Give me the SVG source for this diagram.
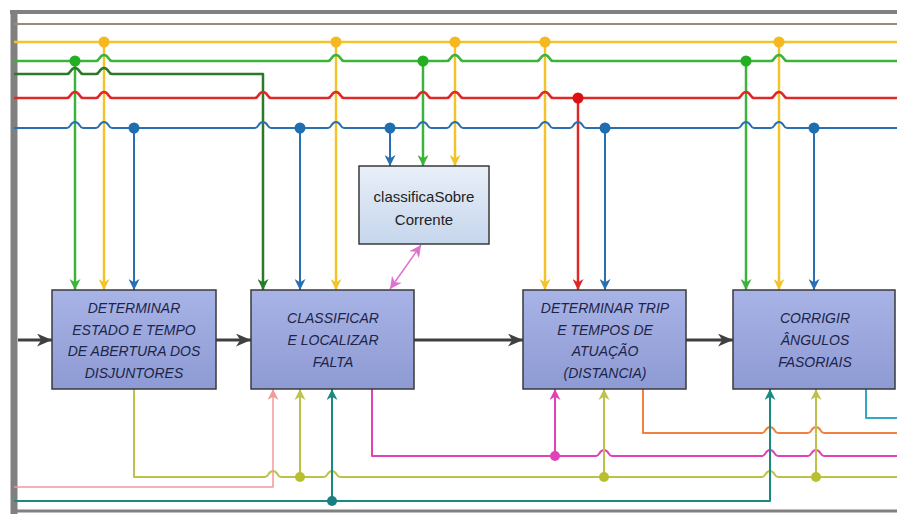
<svg xmlns="http://www.w3.org/2000/svg" width="897" height="514" viewBox="0 0 897 514">
<style>
.c{fill:none;stroke-linejoin:round}
.box{stroke:#3a3a3a;stroke-width:1.5}
.t{font-family:"Liberation Sans",Arial,sans-serif;font-style:italic;font-size:14px;fill:#1c2448;text-anchor:middle}
.t2{font-family:"Liberation Sans",Arial,sans-serif;font-size:15px;fill:#222;text-anchor:middle}
.G{stroke:#3cb43c;stroke-width:2.5}
.Y{stroke:#f2c42a;stroke-width:2.5}
.B{stroke:#2a70b0;stroke-width:2}
.DG{stroke:#2a7a2a;stroke-width:2.5}
.R{stroke:#e02828;stroke-width:2.5}
.BR{stroke:#9a8a78;stroke-width:2}
.OL{stroke:#bcc24a;stroke-width:2}
.SA{stroke:#f09a9a;stroke-width:1.5}
.TE{stroke:#1a8a80;stroke-width:2}
.MG{stroke:#e040b8;stroke-width:2}
.OR{stroke:#f08040;stroke-width:2}
.CY{stroke:#30aac0;stroke-width:2}
.DK{stroke:#404040;stroke-width:3}
.frame{stroke:#808080;fill:none}
</style>
<defs>
<linearGradient id="gN" x1="0" y1="0" x2="0" y2="1"><stop offset="0" stop-color="#a8b3e6"/><stop offset="1" stop-color="#8e9ad3"/></linearGradient>
<linearGradient id="gC" x1="0" y1="0" x2="0" y2="1"><stop offset="0" stop-color="#e8eff8"/><stop offset="1" stop-color="#c6d6ec"/></linearGradient>
<marker id="aG" viewBox="0 0 10 10" refX="10" refY="5" markerWidth="11" markerHeight="11" markerUnits="userSpaceOnUse" orient="auto"><path d="M0,0 L10,5 L0,10 L3,5 Z" fill="#3cb43c"/></marker>
<marker id="aY" viewBox="0 0 10 10" refX="10" refY="5" markerWidth="11" markerHeight="11" markerUnits="userSpaceOnUse" orient="auto"><path d="M0,0 L10,5 L0,10 L3,5 Z" fill="#f2c42a"/></marker>
<marker id="aB" viewBox="0 0 10 10" refX="10" refY="5" markerWidth="11" markerHeight="11" markerUnits="userSpaceOnUse" orient="auto"><path d="M0,0 L10,5 L0,10 L3,5 Z" fill="#2a70b0"/></marker>
<marker id="aDG" viewBox="0 0 10 10" refX="10" refY="5" markerWidth="11" markerHeight="11" markerUnits="userSpaceOnUse" orient="auto"><path d="M0,0 L10,5 L0,10 L3,5 Z" fill="#2a7a2a"/></marker>
<marker id="aR" viewBox="0 0 10 10" refX="10" refY="5" markerWidth="11" markerHeight="11" markerUnits="userSpaceOnUse" orient="auto"><path d="M0,0 L10,5 L0,10 L3,5 Z" fill="#e02828"/></marker>
<marker id="aOL" viewBox="0 0 10 10" refX="10" refY="5" markerWidth="11" markerHeight="11" markerUnits="userSpaceOnUse" orient="auto"><path d="M0,0 L10,5 L0,10 L3,5 Z" fill="#bcc24a"/></marker>
<marker id="aSA" viewBox="0 0 10 10" refX="10" refY="5" markerWidth="11" markerHeight="11" markerUnits="userSpaceOnUse" orient="auto"><path d="M0,0 L10,5 L0,10 L3,5 Z" fill="#f09a9a"/></marker>
<marker id="aTE" viewBox="0 0 10 10" refX="10" refY="5" markerWidth="11" markerHeight="11" markerUnits="userSpaceOnUse" orient="auto"><path d="M0,0 L10,5 L0,10 L3,5 Z" fill="#1a8a80"/></marker>
<marker id="aMG" viewBox="0 0 10 10" refX="10" refY="5" markerWidth="11" markerHeight="11" markerUnits="userSpaceOnUse" orient="auto"><path d="M0,0 L10,5 L0,10 L3,5 Z" fill="#e040b8"/></marker>
<marker id="aPK" viewBox="0 0 10 10" refX="10" refY="5" markerWidth="12" markerHeight="12" markerUnits="userSpaceOnUse" orient="auto-start-reverse"><path d="M0,0 L10,5 L0,10 L3,5 Z" fill="#e070d0"/></marker>
<marker id="aDK" viewBox="0 0 14 12" refX="14" refY="6" markerWidth="15" markerHeight="13" markerUnits="userSpaceOnUse" orient="auto"><path d="M0,0 L14,6 L0,12 L4,6 Z" fill="#404040"/></marker>
</defs>

<rect width="897" height="514" fill="#ffffff"/>

<g id="frame">
<line class="frame" x1="10" y1="12" x2="897" y2="12" stroke-width="4"/>
<line class="frame" x1="14" y1="10" x2="14" y2="514" stroke-width="7"/>
<line class="frame" x1="14" y1="511" x2="897" y2="511" stroke-width="3"/>
</g>

<g id="connectors">
<!-- vertical drops from buses -->
<path class="c G" d="M75,61 V290" marker-end="url(#aG)"/>
<path class="c Y" d="M104,42 V290" marker-end="url(#aY)"/>
<path class="c B" d="M134,128 V290" marker-end="url(#aB)"/>
<path class="c B" d="M300,128 V290" marker-end="url(#aB)"/>
<path class="c Y" d="M336,42 V290" marker-end="url(#aY)"/>
<path class="c B" d="M390,128 V166" marker-end="url(#aB)"/>
<path class="c G" d="M423,61 V166" marker-end="url(#aG)"/>
<path class="c Y" d="M455,42 V166" marker-end="url(#aY)"/>
<path class="c Y" d="M545,42 V290" marker-end="url(#aY)"/>
<path class="c R" d="M578,98 V290" marker-end="url(#aR)" stroke-width="2"/>
<path class="c B" d="M605,128 V290" marker-end="url(#aB)"/>
<path class="c G" d="M746,61 V290" marker-end="url(#aG)"/>
<path class="c Y" d="M779,42 V290" marker-end="url(#aY)"/>
<path class="c B" d="M814,128 V290" marker-end="url(#aB)"/>

<!-- top buses -->
<path class="c BR" d="M14,24 H897"/>
<path class="c Y" d="M14,42 H897"/>
<path class="c G" d="M14,61 H96 C100,61 99,55 104,55 C109,55 108,61 112,61 H328 C332,61 331,55 336,55 C341,55 340,61 344,61 H447 C451,61 450,55 455,55 C460,55 459,61 463,61 H537 C541,61 540,55 545,55 C550,55 549,61 553,61 H771 C775,61 774,55 779,55 C784,55 783,61 787,61 H897"/>
<path class="c DG" d="M14,74 H67 C71,74 70,68 75,68 C80,68 79,74 83,74 H96 C100,74 99,68 104,68 C109,68 108,74 112,74 H263 V290" marker-end="url(#aDG)"/>
<path class="c R" d="M14,98 H67 C71,98 70,92 75,92 C80,92 79,98 83,98 H96 C100,98 99,92 104,92 C109,92 108,98 112,98 H255 C259,98 258,92 263,92 C268,92 267,98 271,98 H328 C332,98 331,92 336,92 C341,92 340,98 344,98 H415 C419,98 418,92 423,92 C428,92 427,98 431,98 H447 C451,98 450,92 455,92 C460,92 459,98 463,98 H537 C541,98 540,92 545,92 C550,92 549,98 553,98 H738 C742,98 741,92 746,92 C751,92 750,98 754,98 H771 C775,98 774,92 779,92 C784,92 783,98 787,98 H897"/>
<path class="c B" d="M14,128 H67 C71,128 70,122 75,122 C80,122 79,128 83,128 H96 C100,128 99,122 104,122 C109,122 108,128 112,128 H255 C259,128 258,122 263,122 C268,122 267,128 271,128 H328 C332,128 331,122 336,122 C341,122 340,128 344,128 H415 C419,128 418,122 423,122 C428,122 427,128 431,128 H447 C451,128 450,122 455,122 C460,122 459,128 463,128 H537 C541,128 540,122 545,122 C550,122 549,128 553,128 H570 C574,128 573,122 578,122 C583,122 582,128 586,128 H738 C742,128 741,122 746,122 C751,122 750,128 754,128 H771 C775,128 774,122 779,122 C784,122 783,128 787,128 H897"/>

<!-- top junction dots -->
<g fill="#f5b820">
<circle cx="104" cy="42" r="5.5"/><circle cx="336" cy="42" r="5.5"/><circle cx="455" cy="42" r="5.5"/><circle cx="545" cy="42" r="5.5"/><circle cx="779" cy="42" r="5.5"/>
</g>
<g fill="#22b022">
<circle cx="75" cy="61" r="5.5"/><circle cx="423" cy="61" r="5.5"/><circle cx="746" cy="61" r="5.5"/>
</g>
<circle cx="578" cy="98" r="5.5" fill="#e01010"/>
<g fill="#1f6fb0">
<circle cx="134" cy="128" r="5.5"/><circle cx="300" cy="128" r="5.5"/><circle cx="390" cy="128" r="5.5"/><circle cx="605" cy="128" r="5.5"/><circle cx="814" cy="128" r="5.5"/>
</g>

<!-- main flow -->
<path class="c DK" d="M18,340 H52" marker-end="url(#aDK)"/>
<path class="c DK" d="M216,340 H251" marker-end="url(#aDK)"/>
<path class="c DK" d="M414,340 H523" marker-end="url(#aDK)"/>
<path class="c DK" d="M686,340 H733" marker-end="url(#aDK)"/>

<!-- pink double arrow -->
<path class="c" stroke="#e070d0" stroke-width="1.5" d="M421,245 L390,289" marker-start="url(#aPK)" marker-end="url(#aPK)"/>

<!-- bottom lines -->
<path class="c CY" d="M866,389 V418 H897"/>
<path class="c OR" d="M643,389 V433 H762 C766,433 765,427 770,427 C775,427 774,433 778,433 H808 C812,433 811,427 816,427 C821,427 820,433 824,433 H897"/>
<path class="c MG" d="M372,389 V456 H596 C600,456 599,450 604,450 C609,450 608,456 612,456 H762 C766,456 765,450 770,450 C775,450 774,456 778,456 H808 C812,456 811,450 816,450 C821,450 820,456 824,456 H897"/>
<path class="c MG" d="M555,456 V389" marker-end="url(#aMG)"/>
<path class="c OL" d="M134,389 V477 H265 C269,477 268,471 273,471 C278,471 277,477 281,477 H324 C328,477 327,471 332,471 C337,471 336,477 340,477 H762 C766,477 765,471 770,471 C775,471 774,477 778,477 H897"/>
<path class="c OL" d="M300,477 V389" marker-end="url(#aOL)"/>
<path class="c OL" d="M604,477 V389" marker-end="url(#aOL)"/>
<path class="c OL" d="M816,477 V389" marker-end="url(#aOL)"/>
<path class="c SA" d="M14,487 H273 V389" marker-end="url(#aSA)"/>
<path class="c TE" d="M14,501 H770 V389" marker-end="url(#aTE)"/>
<path class="c TE" d="M332,501 V389" marker-end="url(#aTE)"/>
<circle cx="555" cy="456" r="5" fill="#e040b8"/>
<g fill="#b8c030">
<circle cx="300" cy="477" r="5"/><circle cx="604" cy="477" r="5"/><circle cx="816" cy="477" r="5"/>
</g>
<circle cx="332" cy="501" r="5" fill="#1a7f7f"/>
</g>

<g id="node-classificaSobreCorrente">
<rect class="box" x="359" y="166" width="130" height="78" fill="url(#gC)"/>
<text class="t2" x="424" y="202">classificaSobre</text>
<text class="t2" x="424" y="225">Corrente</text>
</g>

<g id="node-determinar-estado">
<rect class="box" x="52" y="290" width="164" height="99" fill="url(#gN)"/>
<text class="t" x="134" y="313">DETERMINAR</text>
<text class="t" x="134" y="335">ESTADO E TEMPO</text>
<text class="t" x="134" y="356">DE ABERTURA DOS</text>
<text class="t" x="134" y="378">DISJUNTORES</text>
</g>

<g id="node-classificar">
<rect class="box" x="251" y="290" width="163" height="99" fill="url(#gN)"/>
<text class="t" x="333" y="323">CLASSIFICAR</text>
<text class="t" x="333" y="345">E LOCALIZAR</text>
<text class="t" x="333" y="367">FALTA</text>
</g>

<g id="node-determinar-trip">
<rect class="box" x="523" y="290" width="163" height="99" fill="url(#gN)"/>
<text class="t" x="605" y="313">DETERMINAR TRIP</text>
<text class="t" x="605" y="335">E TEMPOS DE</text>
<text class="t" x="605" y="356">ATUAÇÃO</text>
<text class="t" x="605" y="378">(DISTANCIA)</text>
</g>

<g id="node-corrigir">
<rect class="box" x="733" y="290" width="162" height="99" fill="url(#gN)"/>
<text class="t" x="815" y="323">CORRIGIR</text>
<text class="t" x="815" y="345">ÂNGULOS</text>
<text class="t" x="815" y="367">FASORIAIS</text>
</g>
</svg>
